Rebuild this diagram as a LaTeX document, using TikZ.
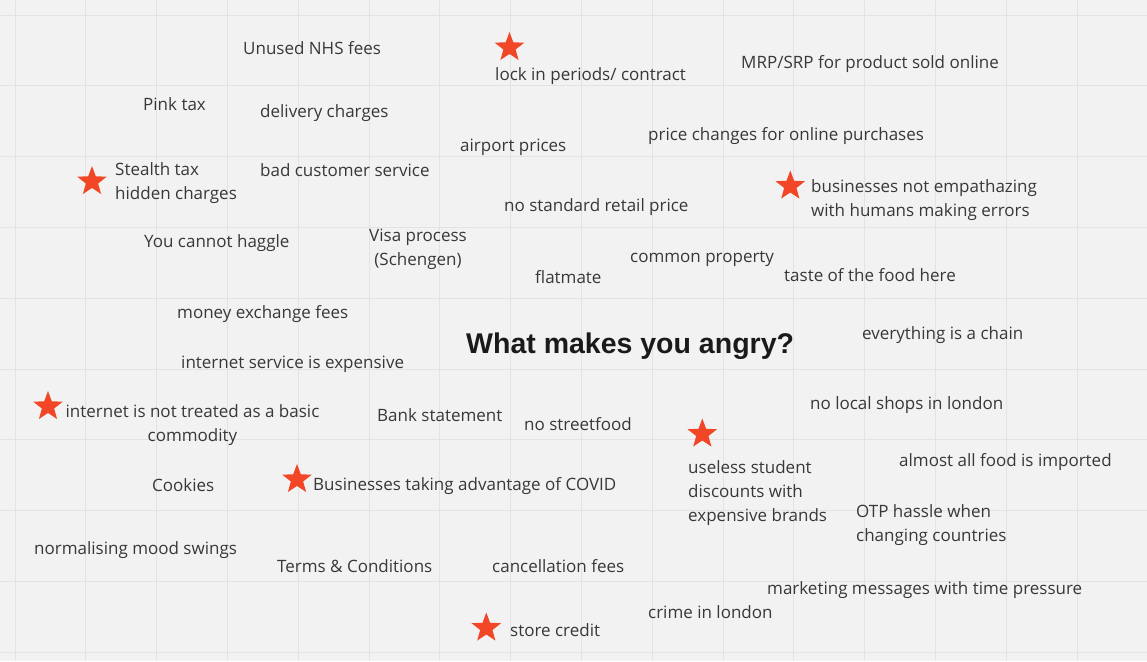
\documentclass[tikz,border=0pt]{standalone}
\usepackage{fontspec}
\setmainfont{Open Sans}
\newfontfamily\headfont{Liberation Sans}
\usepackage{tikz}
\usetikzlibrary{shapes.geometric}
\definecolor{boardbg}{HTML}{F2F2F2}
\definecolor{gridgray}{HTML}{E3E3E3}
\definecolor{inkgray}{HTML}{383838}
\definecolor{starred}{HTML}{F24726}
\tikzset{
  idea/.style={anchor=base west, inner sep=0pt, text=inkgray,
    font=\fontsize{17}{24}\selectfont},
  anger/.style={star, star points=5, star point ratio=2.4, fill=starred,
    draw=none, minimum size=31pt, inner sep=0pt}
}
\begin{document}
\begin{tikzpicture}[x=1pt,y=-1pt]
\useasboundingbox (0,0) rectangle (1147,661);
\fill[boardbg] (0,0) rectangle (1147,661);
% board grid
\foreach \k in {0,...,16} \draw[gridgray, line width=0.8pt] ({15+70.8*\k},0) -- ({15+70.8*\k},661);
\foreach \k in {0,...,9} \draw[gridgray, line width=0.8pt] (0,{15+70.8*\k}) -- (1147,{15+70.8*\k});
% title
\node[anchor=base west, inner sep=0pt, text={rgb,255:red,26;green,26;blue,26},
  font=\headfont\bfseries\fontsize{28.5}{34}\selectfont] (title) at (466,353) {What makes you angry?};
% stars
\node[anger] (starlock) at (509.5,47.5) {};
\node[anger] (starstealth) at (92,181.5) {};
\node[anger] (starempath) at (790.3,186) {};
\node[anger] (starnet) at (48,406.5) {};
\node[anger] (staruseless) at (702.3,434) {};
\node[anger] (starcovid) at (297,479.5) {};
\node[anger] (starcredit) at (486.3,628) {};
% notes (multi-line ones sit on their last baseline)
\node[idea] (nhs) at (243,55) {Unused NHS fees};
\node[idea] (lockin) at (495,80) {lock in periods/ contract};
\node[idea] (mrp) at (741,68) {MRP/SRP for product sold online};
\node[idea] (pink) at (143,110) {Pink tax};
\node[idea] (delivery) at (260,117) {delivery charges};
\node[idea] (airport) at (460,151) {airport prices};
\node[idea] (pricechg) at (648,140) {price changes for online purchases};
\node[idea, align=left] (stealth) at (115,199.5) {Stealth tax\\hidden charges};
\node[idea] (badcust) at (260,176) {bad customer service};
\node[idea, align=left] (empath) at (811,216.5) {businesses not empathazing\\with humans making errors};
\node[idea] (nostandard) at (504,211) {no standard retail price};
\node[idea] (haggle) at (144,247) {You cannot haggle};
\node[idea, anchor=base, align=center] (visa) at (418,265) {Visa process\\(Schengen)};
\node[idea] (common) at (630,262) {common property};
\node[idea] (flatmate) at (535,283) {flatmate};
\node[idea] (taste) at (784,281) {taste of the food here};
\node[idea] (money) at (177,318) {money exchange fees};
\node[idea] (chain) at (862,339) {everything is a chain};
\node[idea] (netexp) at (181,368) {internet service is expensive};
\node[idea, anchor=base, align=center] (netbasic) at (192.5,441.7) {internet is not treated as a basic\\commodity};
\node[idea] (bank) at (377,421) {Bank statement};
\node[idea] (street) at (524,430) {no streetfood};
\node[idea] (localshops) at (810,409) {no local shops in london};
\node[idea, align=left] (useless) at (688,521.7) {useless student\\discounts with\\expensive brands};
\node[idea] (imported) at (899,466) {almost all food is imported};
\node[idea] (cookies) at (152,491) {Cookies};
\node[idea] (covid) at (313,490) {Businesses taking advantage of COVID};
\node[idea, align=left] (otp) at (856,541.7) {OTP hassle when\\changing countries};
\node[idea] (mood) at (34,554) {normalising mood swings};
\node[idea] (terms) at (277,572) {Terms \& Conditions};
\node[idea] (cancel) at (492,572) {cancellation fees};
\node[idea] (marketing) at (767,594) {marketing messages with time pressure};
\node[idea] (crime) at (648,618) {crime in london};
\node[idea] (credit) at (510,636) {store credit};
\end{tikzpicture}
\end{document}
